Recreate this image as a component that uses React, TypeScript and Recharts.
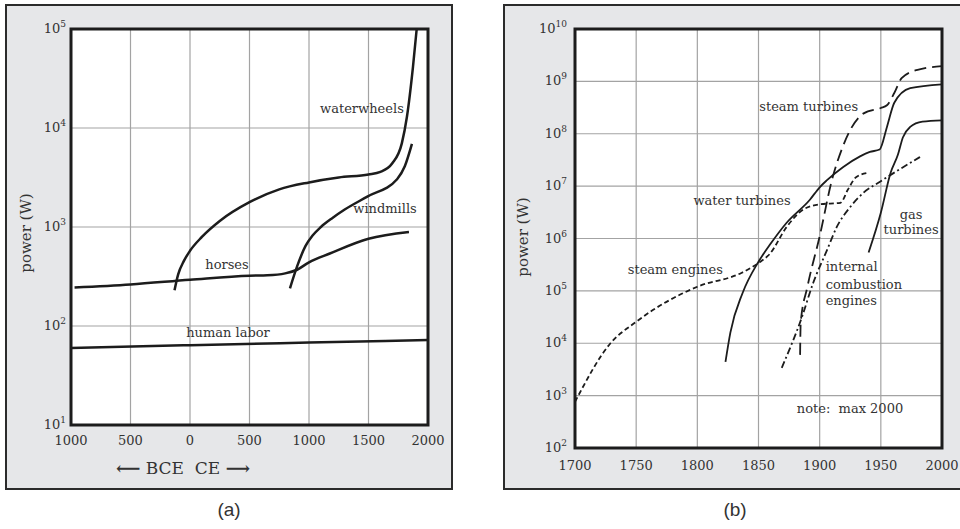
import {
  CartesianGrid,
  Line,
  LineChart,
  ReferenceArea,
  ReferenceDot,
  XAxis,
  YAxis,
} from "recharts";

const SERIF = "'DejaVu Serif', serif";
const SANS = "'Liberation Sans', Arial, sans-serif";
const INK = "#1c1c1c";
const TEXT = "#333";
const GRID = "#a3a3a3";

// panel (a): -1000 .. 2000, power in W
const ancientTicksX = [-1000, -500, 0, 500, 1000, 1500, 2000];
const ancientTicksY = [10, 100, 1000, 10000, 100000];

const humanYears = [-1000, 0, 1000, 2000];
const humanWatts = [60, 64, 68, 72];

const horseYears = [-970, -500, 0, 500, 650, 800, 900, 1000, 1175, 1500, 1840];
const horseWatts = [245, 263, 293, 322, 325, 340, 370, 440, 540, 760, 890];

const waterwheelYears = [-130, -100, -50, 0, 100, 250, 500, 750, 1000, 1250, 1500, 1600, 1700, 1780, 1823, 1874, 1905];
const waterwheelWatts = [230, 330, 457, 575, 794, 1150, 1780, 2400, 2820, 3160, 3390, 3600, 4400, 7000, 13000, 41700, 100000];

const windmillYears = [840, 900, 970, 1030, 1100, 1200, 1300, 1490, 1740, 1805, 1865];
const windmillWatts = [240, 400, 640, 820, 1000, 1240, 1500, 2030, 3040, 4100, 6900];

// panel (b): 1700 .. 2000
const modernTicksX = [1700, 1750, 1800, 1850, 1900, 1950, 2000];
const modernTicksY = [1e2, 1e3, 1e4, 1e5, 1e6, 1e7, 1e8, 1e9, 1e10];

const steamEngineYears = [1700, 1729, 1750, 1800, 1836, 1850, 1859, 1873, 1886, 1900, 1917, 1923, 1930, 1940];
const steamEngineWatts = [760, 10000, 25700, 120000, 220000, 340000, 500000, 1.66e6, 3.5e6, 4.5e6, 4.8e6, 8.5e6, 1.5e7, 1.8e7];

const waterTurbineYears = [1823, 1827, 1837, 1850, 1860, 1873, 1892, 1900, 1906, 1919, 1933, 1941, 1949, 1955, 1961, 1974, 2000];
const waterTurbineWatts = [4400, 16000, 91000, 360000, 800000, 2e6, 5.5e6, 9.5e6, 1.3e7, 2.3e7, 3.7e7, 4.5e7, 5e7, 1.35e8, 3.9e8, 7.4e8, 8.8e8];

const steamTurbineYears = [1884, 1884.5, 1890, 1900, 1910, 1918, 1925, 1936, 1950, 1955, 1961, 1967, 1980, 2000];
const steamTurbineWatts = [6000, 25000, 120000, 1.1e6, 1.3e7, 5e7, 1.18e8, 2.45e8, 3.1e8, 3.5e8, 6e8, 1.15e9, 1.66e9, 1.95e9];

const iceYears = [1869, 1885.5, 1894.6, 1906, 1914, 1925, 1935.6, 1949, 1982];
const iceWatts = [3400, 31600, 140000, 600000, 1.66e6, 4e6, 7.4e6, 1.2e7, 3.6e7];

const gasTurbineYears = [1940, 1950, 1958, 1964, 1968, 1974, 1984, 2000];
const gasTurbineWatts = [540000, 3.1e6, 1.8e7, 4e7, 8.5e7, 1.35e8, 1.7e8, 1.8e8];

const zip = (xs: number[], ys: number[]) => xs.map((x, i) => ({ x, y: ys[i] }));

function PowTick(props: any) {
  const { x, y, payload } = props;
  const exp = Math.round(Math.log10(payload.value));
  return (
    <text x={x} y={y} dy={4} textAnchor="end" fill={TEXT} fontFamily={SERIF} fontSize={13}>
      10
      <tspan dy={-6} fontSize={9}>
        {exp}
      </tspan>
    </text>
  );
}

function note(x: number, y: number, value: string, position: any = "center") {
  return (
    <ReferenceDot
      key={value}
      x={x}
      y={y}
      r={1}
      fill="none"
      stroke="none"
      label={{ value, position, offset: 5, fill: TEXT, fontSize: 13, fontFamily: SERIF }}
    />
  );
}

function AncientChart() {
  return (
    <LineChart width={480} height={529} margin={{ top: 29, right: 52, bottom: 74, left: 11 }}>
      <CartesianGrid stroke={GRID} strokeWidth={1.2} fill="#fff" />
      <XAxis
        dataKey="x"
        type="number"
        domain={[-1000, 2000]}
        ticks={ancientTicksX}
        tickFormatter={(v: number) => String(Math.abs(v))}
        tick={{ fill: TEXT, fontSize: 13, fontFamily: SERIF }}
        tickLine={false}
        axisLine={false}
        tickSize={0}
        tickMargin={11}
        height={30}
        allowDataOverflow
      />
      <YAxis
        type="number"
        scale="log"
        domain={[10, 100000]}
        ticks={ancientTicksY}
        tick={<PowTick />}
        tickLine={false}
        axisLine={false}
        tickSize={0}
        tickMargin={5}
        width={60}
        allowDataOverflow
      />
      <Line data={zip(humanYears, humanWatts)} dataKey="y" type="monotone" stroke={INK} strokeWidth={2.5} dot={false} isAnimationActive={false} />
      <Line data={zip(horseYears, horseWatts)} dataKey="y" type="monotone" stroke={INK} strokeWidth={2.5} dot={false} isAnimationActive={false} />
      <Line data={zip(waterwheelYears, waterwheelWatts)} dataKey="y" type="monotone" stroke={INK} strokeWidth={2.5} dot={false} isAnimationActive={false} />
      <Line data={zip(windmillYears, windmillWatts)} dataKey="y" type="monotone" stroke={INK} strokeWidth={2.5} dot={false} isAnimationActive={false} />
      {note(1445, 15800, "waterwheels")}
      {note(1639, 1550, "windmills")}
      {note(311, 415, "horses")}
      {note(319, 86, "human labor")}
      <ReferenceArea x1={-1000} x2={2000} y1={10} y2={100000} fill="none" stroke={INK} strokeWidth={3} />
    </LineChart>
  );
}

function ModernChart() {
  return (
    <LineChart width={480} height={529} margin={{ top: 29, right: 18, bottom: 51, left: 35 }}>
      <CartesianGrid stroke={GRID} strokeWidth={1.2} fill="#fff" />
      <XAxis
        dataKey="x"
        type="number"
        domain={[1700, 2000]}
        ticks={modernTicksX}
        tick={{ fill: TEXT, fontSize: 13, fontFamily: SERIF }}
        tickLine={false}
        axisLine={false}
        tickSize={0}
        tickMargin={13}
        height={30}
        allowDataOverflow
      />
      <YAxis
        type="number"
        scale="log"
        domain={[1e2, 1e10]}
        ticks={modernTicksY}
        tick={<PowTick />}
        tickLine={false}
        axisLine={false}
        tickSize={0}
        tickMargin={8}
        width={60}
        allowDataOverflow
      />
      <Line data={zip(steamEngineYears, steamEngineWatts)} dataKey="y" type="monotone" stroke={INK} strokeWidth={1.8} strokeDasharray="5 3" dot={false} isAnimationActive={false} />
      <Line data={zip(waterTurbineYears, waterTurbineWatts)} dataKey="y" type="monotone" stroke={INK} strokeWidth={1.8} dot={false} isAnimationActive={false} />
      <Line data={zip(steamTurbineYears, steamTurbineWatts)} dataKey="y" type="monotone" stroke={INK} strokeWidth={1.8} strokeDasharray="12 6" dot={false} isAnimationActive={false} />
      <Line data={zip(iceYears, iceWatts)} dataKey="y" type="monotone" stroke={INK} strokeWidth={1.8} strokeDasharray="7 3 2 3" dot={false} isAnimationActive={false} />
      <Line data={zip(gasTurbineYears, gasTurbineWatts)} dataKey="y" type="monotone" stroke={INK} strokeWidth={1.8} dot={false} isAnimationActive={false} />
      {note(1891, 3.4e8, "steam turbines")}
      {note(1836.5, 5.3e6, "water turbines")}
      {note(1782, 2.6e5, "steam engines")}
      {note(1900, 2.9e5, "internal", "right")}
      {note(1900, 1.35e5, "combustion", "right")}
      {note(1900, 6.6e4, "engines", "right")}
      {note(1974.7, 2.95e6, "gas")}
      {note(1974.7, 1.5e6, "turbines")}
      {note(1924.8, 562, "note:\u00a0 max 2000")}
      <ReferenceArea x1={1700} x2={2000} y1={1e2} y2={1e10} fill="none" stroke={INK} strokeWidth={3} />
    </LineChart>
  );
}

const frame = {
  position: "absolute" as const,
  top: 4,
  height: 486,
  boxSizing: "border-box" as const,
  border: "2px solid #2b2b2b",
  background: "#e6e7e9",
};

const yLabel = {
  position: "absolute" as const,
  width: 120,
  textAlign: "center" as const,
  fontFamily: SERIF,
  fontSize: 15,
  color: TEXT,
  transform: "rotate(-90deg)",
  lineHeight: "18px",
};

export default function App() {
  return (
    <div style={{ position: "absolute", left: 0, top: 0, width: 960, height: 529, background: "#fff", overflow: "hidden" }}>
      <div style={{ ...frame, left: 5, width: 448 }} />
      <div style={{ ...frame, left: 503, width: 470 }} />
      <div style={{ position: "absolute", left: 0, top: 0 }}>
        <AncientChart />
      </div>
      <div style={{ position: "absolute", left: 480, top: 0 }}>
        <ModernChart />
      </div>
      <div style={{ ...yLabel, left: 26 - 60, top: 233 - 9 }}>power (W)</div>
      <div style={{ ...yLabel, left: 523 - 60, top: 237 - 9 }}>power (W)</div>
      <div style={{ position: "absolute", left: 83, top: 457, width: 200, textAlign: "center", fontFamily: SERIF, fontSize: 17, color: TEXT, lineHeight: "22px", whiteSpace: "pre" }}>
        <span style={{ fontWeight: "bold" }}>⟵</span>
        {" BCE  CE "}
        <span style={{ fontWeight: "bold" }}>⟶</span>
      </div>
      <div style={{ position: "absolute", left: 199, top: 498, width: 60, textAlign: "center", fontFamily: SANS, fontSize: 19, color: TEXT, lineHeight: "24px" }}>
        (a)
      </div>
      <div style={{ position: "absolute", left: 705, top: 498, width: 60, textAlign: "center", fontFamily: SANS, fontSize: 19, color: TEXT, lineHeight: "24px" }}>
        (b)
      </div>
    </div>
  );
}
